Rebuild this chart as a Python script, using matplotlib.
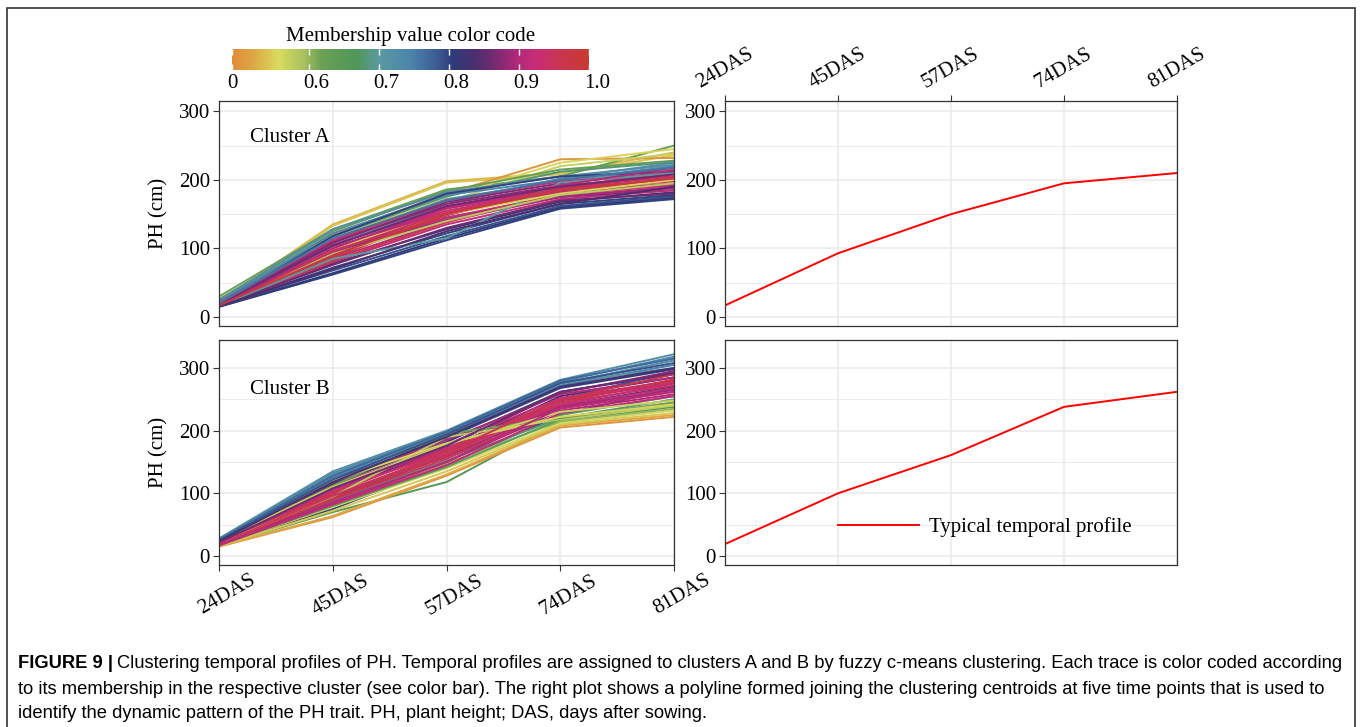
import numpy as np
import matplotlib
matplotlib.use("Agg")
import matplotlib.pyplot as plt
from matplotlib.colors import LinearSegmentedColormap, Normalize
from matplotlib.cm import ScalarMappable
from matplotlib.patches import Rectangle
from matplotlib.transforms import offset_copy

plt.rcParams['font.family'] = ['Liberation Serif', 'DejaVu Serif']

days = ["24DAS", "45DAS", "57DAS", "74DAS", "81DAS"]

# cluster A traces: PH at the five dates, and membership
cluster_a = [
    [22, 135, 198, 210, 240], [20, 133, 196, 208, 236], [30, 128, 186, 205, 250],
    [25, 120, 180, 230, 232], [22, 115, 175, 225, 245], [18, 110, 168, 220, 238],
    [26, 125, 184, 215, 228], [24, 118, 176, 212, 226], [24, 128, 182, 205, 222],
    [22, 122, 178, 200, 220], [20, 112, 172, 198, 215], [18, 105, 165, 202, 225],
    [15, 62, 112, 158, 172], [15, 64, 115, 160, 174], [16, 68, 118, 162, 176],
    [16, 72, 122, 165, 178], [17, 78, 128, 168, 182], [18, 118, 180, 205, 212],
    [18, 95, 145, 175, 185], [17, 80, 135, 172, 185], [17, 85, 140, 175, 190],
    [18, 90, 145, 178, 192], [18, 95, 150, 182, 195], [19, 100, 155, 185, 198],
    [19, 105, 160, 188, 200], [20, 110, 165, 192, 205], [18, 88, 148, 190, 210],
    [17, 82, 138, 180, 200], [20, 108, 168, 195, 212], [19, 98, 158, 186, 215],
    [18, 92, 142, 176, 188], [17, 76, 130, 170, 180], [21, 112, 170, 198, 208],
    [18, 86, 150, 184, 203], [19, 102, 152, 182, 193], [16, 85, 115, 196, 210],
    [20, 100, 150, 180, 200], [18, 92, 140, 178, 195], [17, 96, 152, 188, 205],
    [18, 100, 160, 192, 218], [16, 70, 125, 165, 190], [19, 104, 162, 190, 208],
    [20, 115, 170, 200, 218], [17, 90, 150, 185, 202],
]
member_a = [0.53, 0.54, 0.62, 0.50, 0.55, 0.57, 0.63, 0.68, 0.72, 0.74, 0.70, 0.73,
            0.80, 0.81, 0.79, 0.80, 0.82, 0.80, 0.83, 0.92, 0.90, 0.93, 0.91, 0.94,
            0.90, 0.88, 0.95, 0.96, 0.87, 0.92, 0.89, 0.86, 0.93, 0.97, 0.91, 0.70,
            0.55, 0.58, 0.95, 0.90, 0.84, 0.86, 0.76, 0.98]

cluster_b = [
    [28, 135, 200, 281, 322], [27, 132, 198, 278, 318], [26, 128, 195, 275, 312],
    [25, 125, 192, 272, 305], [26, 130, 196, 276, 300], [24, 120, 188, 268, 298],
    [22, 115, 182, 262, 290], [20, 105, 170, 255, 285], [20, 90, 160, 250, 295],
    [18, 80, 150, 240, 270], [18, 75, 145, 225, 268], [16, 70, 118, 215, 238],
    [15, 62, 128, 205, 222], [15, 64, 130, 208, 225], [16, 72, 135, 210, 228],
    [17, 78, 140, 212, 232], [18, 85, 148, 215, 235], [18, 88, 152, 220, 250],
    [19, 95, 160, 225, 255], [17, 80, 142, 218, 245], [22, 118, 185, 258, 285],
    [21, 112, 178, 252, 280], [20, 108, 172, 248, 276], [20, 102, 168, 245, 272],
    [19, 98, 162, 240, 268], [19, 95, 158, 238, 265], [18, 90, 155, 235, 262],
    [18, 86, 150, 232, 258], [17, 82, 145, 228, 255], [21, 110, 175, 260, 295],
    [20, 100, 170, 250, 290], [19, 92, 160, 245, 282], [22, 105, 165, 242, 275],
    [20, 95, 190, 218, 240], [22, 112, 195, 220, 245], [24, 120, 180, 222, 242],
    [25, 110, 178, 230, 248], [26, 128, 198, 280, 315], [25, 122, 194, 276, 308],
    [23, 118, 190, 270, 300], [21, 108, 176, 262, 292], [19, 96, 165, 250, 278],
    [17, 84, 150, 236, 262],
]
member_b = [0.72, 0.74, 0.73, 0.75, 0.71, 0.80, 0.82, 0.84, 0.79, 0.81, 0.80, 0.66,
            0.50, 0.52, 0.54, 0.56, 0.60, 0.68, 0.65, 0.64, 0.90, 0.92, 0.91, 0.94,
            0.93, 0.89, 0.95, 0.90, 0.92, 0.88, 0.96, 0.97, 0.93, 0.58, 0.62, 0.55,
            0.57, 0.77, 0.79, 0.83, 0.86, 0.95, 0.91]

# centroid profiles
centroid_a = [17, 93, 150, 195, 210]
centroid_b = [19, 100, 161, 238, 262]

cb_ticks = [0.49, 0.6, 0.7, 0.8, 0.9, 1.0]
cb_labels = ["0", "0.6", "0.7", "0.8", "0.9", "1.0"]

cmap = LinearSegmentedColormap.from_list("member", [
    (0.00, "#E08C38"), (0.06, "#DDA845"), (0.13, "#D8DC5E"), (0.20, "#A8C060"),
    (0.25, "#6AA055"), (0.35, "#509658"), (0.41, "#5A9AA0"), (0.50, "#4C84AC"),
    (0.58, "#3A5890"), (0.62, "#2E3A7A"), (0.68, "#4A2E70"), (0.74, "#7A2A72"),
    (0.80, "#B0287A"), (0.85, "#C82C78"), (0.92, "#C83550"), (1.00, "#C83A30"),
])
norm = Normalize(0.49, 1.0)

W, H = 1363, 727
fig = plt.figure(figsize=(W / 100, H / 100), dpi=100)


def box(l, t, r, b):
    return [l / W, 1 - b / H, (r - l) / W, (b - t) / H]


def style(ax, ylim):
    x = np.arange(len(days))
    ax.set_xlim(0, 4)
    ax.set_ylim(*ylim)
    ax.set_xticks(x)
    ax.set_yticks([0, 100, 200, 300])
    ax.set_yticks([50, 150, 250], minor=True)
    ax.grid(True, which='major', color='#EBEBEB', lw=1.2, zorder=0)
    ax.grid(True, which='minor', axis='y', color='#EBEBEB', lw=0.7, zorder=0)
    ax.tick_params(which='minor', length=0)
    ax.tick_params(which='major', length=4.5, width=0.8, color='#333333',
                   labelsize=15, labelcolor='black', pad=2)
    for s in ax.spines.values():
        s.set_color('#333333')
        s.set_linewidth(0.9)
    ax.set_axisbelow(True)


ax_a = fig.add_axes(box(219, 101, 674, 326))
ax_b = fig.add_axes(box(219, 340, 674, 565))
ax_ca = fig.add_axes(box(725, 101, 1177, 326))
ax_cb = fig.add_axes(box(725, 340, 1177, 565))

for ax, ylim in [(ax_a, (-13, 315)), (ax_b, (-14.4, 344.7)),
                 (ax_ca, (-13, 315)), (ax_cb, (-14.4, 344.7))]:
    style(ax, ylim)

x = np.arange(len(days))
for vals, m in zip(cluster_a, member_a):
    ax_a.plot(x, vals, color=cmap(norm(m)), lw=1.4, solid_joinstyle='round')
for vals, m in zip(cluster_b, member_b):
    ax_b.plot(x, vals, color=cmap(norm(m)), lw=1.4, solid_joinstyle='round')

ax_a.text(0.068, 0.84, "Cluster A", transform=ax_a.transAxes, fontsize=15, va='center')
ax_b.text(0.068, 0.78, "Cluster B", transform=ax_b.transAxes, fontsize=15, va='center')

ax_a.tick_params(axis='x', length=0)
ax_a.set_xticklabels([])
ax_b.set_xticklabels(days, rotation=30, ha='center', va='top')
for lab in ax_b.get_xticklabels():
    lab.set_transform(offset_copy(lab.get_transform(), fig=fig, x=8, y=3, units='dots'))
for ax in (ax_a, ax_b):
    ax.set_ylabel("PH (cm)", fontsize=15)
    ax.yaxis.set_label_coords(-0.11, 0.5)

ax_ca.plot(x, centroid_a, color='#FF0000', lw=1.4)
ax_cb.plot(x, centroid_b, color='#FF0000', lw=1.4, label="Typical temporal profile")

ax_ca.xaxis.tick_top()
ax_ca.set_xticklabels(days, rotation=30, ha='center', va='bottom')
ax_cb.tick_params(axis='x', length=0)
ax_cb.set_xticklabels([])
ax_cb.legend(loc='center left', bbox_to_anchor=(0.25, 0.169), frameon=False,
             fontsize=15, handlelength=3.9, handletextpad=0.45,
             borderpad=0, borderaxespad=0)

# membership colour bar
cax = fig.add_axes(box(232, 49, 589, 70))
cb = fig.colorbar(ScalarMappable(norm=norm, cmap=cmap), cax=cax, orientation='horizontal')
cb.outline.set_visible(False)
cb.set_ticks(cb_ticks)
cb.set_ticklabels([])
cax.tick_params(axis='x', which='both', direction='in', color='white', length=4,
                width=1, top=True, bottom=True)
cax.tick_params(axis='x', which='minor', length=0)
label_shift = [0, 7, 7, 7, 7, 8]
for t, lab, dx in zip(cb_ticks, cb_labels, label_shift):
    tr = offset_copy(cax.get_xaxis_transform(), fig=fig, x=dx, y=-4, units='dots')
    cax.text(t, 0, lab, transform=tr, ha='center', va='top', fontsize=15)
cax.set_title("Membership value color code", fontsize=15, pad=6)

# frame and caption
fig.add_artist(Rectangle((7 / W, -0.05), (1355 - 7) / W, 1.05 - 8 / H,
                         transform=fig.transFigure, fill=False,
                         edgecolor='#333333', lw=1.2))

cap_font = ['Liberation Sans Narrow', 'Liberation Sans', 'DejaVu Sans']
cap_size = 13.2
head = fig.text(18 / W, 1 - 663 / H, "FIGURE 9 |", fontsize=cap_size, fontweight='bold',
                family=cap_font, va='center')
fig.canvas.draw()
head_end = head.get_window_extent().x1 / W
fig.text(head_end + 4 / W, 1 - 663 / H,
         "Clustering temporal profiles of PH. Temporal profiles are assigned to clusters A and B by "
         "fuzzy c-means clustering. Each trace is color coded according",
         fontsize=cap_size, family=cap_font, va='center')
fig.text(18 / W, 1 - 689 / H,
         "to its membership in the respective cluster (see color bar). The right plot shows a polyline "
         "formed joining the clustering centroids at five time points that is used to",
         fontsize=cap_size, family=cap_font, va='center')
fig.text(18 / W, 1 - 714 / H,
         "identify the dynamic pattern of the PH trait. PH, plant height; DAS, days after sowing.",
         fontsize=cap_size, family=cap_font, va='center')

fig.savefig("out.png", dpi=100)
